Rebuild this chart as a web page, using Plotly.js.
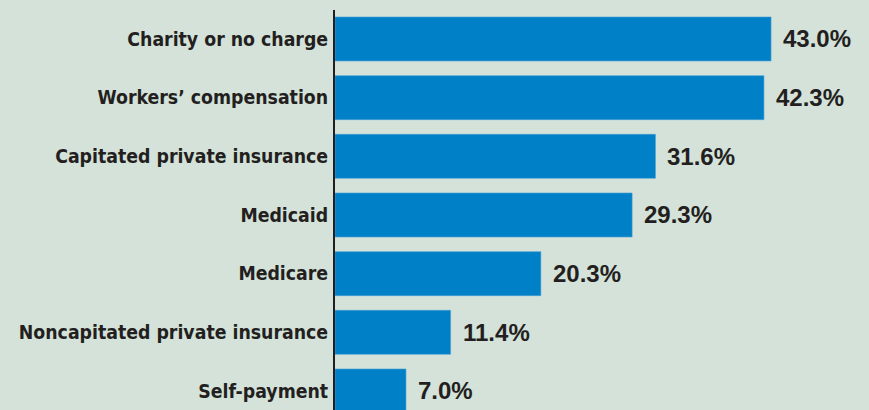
<!DOCTYPE html>
<html><head><meta charset="utf-8">
<script src="https://cdn.plot.ly/plotly-3.0.1.min.js"></script>
<style>
html,body{margin:0;padding:0;background:#d4e2d9;}
#chart .ytick text{font-stretch:condensed !important;}
</style>
</head><body>
<div id="chart" style="width:869px;height:410px;"></div>
<script>
const categories = ["Charity or no charge","Workers\u2019 compensation","Capitated private insurance","Medicaid","Medicare","Noncapitated private insurance","Self-payment"];
const values = [43.0, 42.3, 31.6, 29.3, 20.3, 11.4, 7.0];
const valueLabels = values.map(v => v.toFixed(1) + "%");

const trace = {
  type: "bar", orientation: "h",
  x: values, y: categories,
  marker: {color: "#0080c6", line: {color: "#4a9fd6", width: 0.6}},
  width: 0.75, hoverinfo: "none"
};
const annotations = values.map((v, i) => ({
  x: v, y: categories[i], xref: "x", yref: "y",
  text: valueLabels[i], showarrow: false, xanchor: "left", yanchor: "middle",
  xshift: 10, font: {family: "Liberation Sans, Arial, sans-serif", size: 24, color: "#231f20", weight: 700}
}));
const layout = {
  width: 869, height: 410,
  margin: {l: 335, r: 0, t: 10, b: 0, pad: 0},
  paper_bgcolor: "#d4e2d9", plot_bgcolor: "#d4e2d9",
  showlegend: false,
  xaxis: {range: [0, 52.66], showgrid: false, zeroline: false, showticklabels: false, showline: false, ticks: ""},
  yaxis: {type: "category", range: [6.324, -0.494], showgrid: false, zeroline: false,
    showline: true, linecolor: "#231f20", linewidth: 2, ticks: "", ticklabelstandoff: 1,
    tickfont: {family: "DejaVu Sans, sans-serif", size: 19.3, color: "#231f20", weight: 700}},
  annotations: annotations
};
Plotly.newPlot("chart", [trace], layout, {displayModeBar: false, staticPlot: true});
</script>
</body></html>
